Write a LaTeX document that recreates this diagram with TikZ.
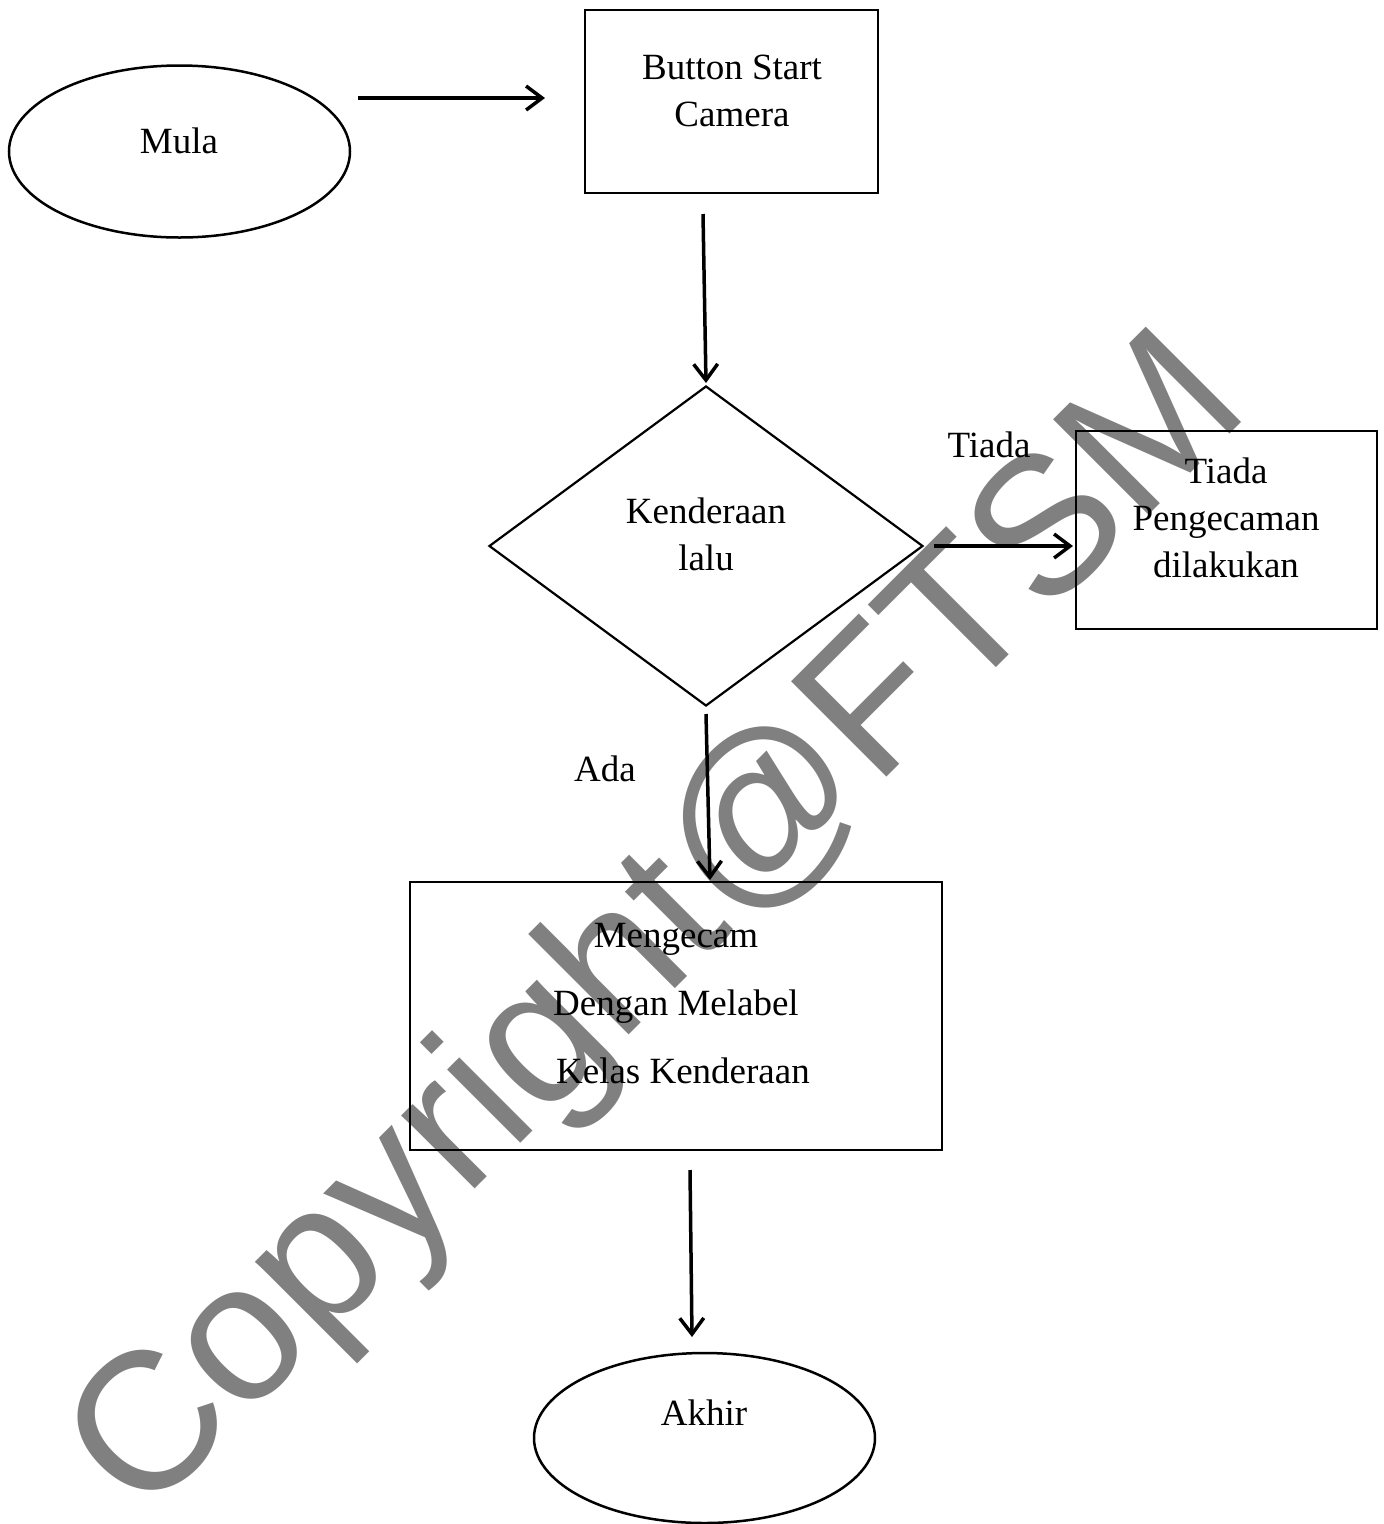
\documentclass[tikz,border=0pt]{standalone}
\usepackage{fontspec}
\setmainfont{Liberation Serif}
\newfontfamily\wmfont{Liberation Sans}
\usetikzlibrary{shapes.geometric,arrows.meta}
\begin{document}
\begin{tikzpicture}[x=1pt,y=-1pt,
  shapeline/.style={draw=black,line width=2.5pt},
  termbox/.style={shapeline,ellipse,inner sep=0pt,minimum width=341pt,minimum height=172pt},
  procbox/.style={shapeline,rectangle,inner sep=0pt},
  decbox/.style={draw=black,line width=2.2pt,diamond,inner sep=0pt,minimum width=434pt,minimum height=320pt},
  lbl/.style={font=\fontsize{37}{47}\selectfont,align=center,inner sep=0pt},
  flow/.style={draw=black,line width=3.5pt,-{Straight Barb[length=16pt,width=24pt]}}]
\useasboundingbox (0,0) rectangle (1384,1524);
% watermark
\node[rotate=45,anchor=base west,inner sep=0pt,text={rgb,255:red,128;green,128;blue,128}] (wm) at (142,1522)
  {\wmfont\fontsize{196}{200}\selectfont Copyright@FTSM};
% shapes
\node[termbox] (mula) at (179.5,151.5) {};
\node[procbox,minimum width=293pt,minimum height=183pt] (start) at (731.5,101.5) {};
\node[decbox] (dec) at (706,546) {};
\node[procbox,minimum width=301pt,minimum height=198pt] (none) at (1226.5,530) {};
\node[procbox,minimum width=532pt,minimum height=268pt] (detect) at (676,1016) {};
\node[termbox,minimum height=170pt] (akhir) at (704.5,1438) {};
% texts
\node[lbl] (mulaT) at (179,140.5) {Mula};
\node[lbl] (startT) at (732,90.5) {Button Start\\Camera};
\node[lbl] (decT) at (706,534) {Kenderaan\\lalu};
\node[lbl] (noneT) at (1226,518) {Tiada\\Pengecaman\\dilakukan};
\node[lbl,font=\fontsize{37}{68}\selectfont] (detectT) at (676,1004) {Mengecam\\Dengan Melabel\\\hspace*{14pt}Kelas Kenderaan};
\node[lbl] (akhirT) at (704,1412.5) {Akhir};
\node[lbl] (tiadaL) at (989,444.5) {Tiada};
\node[lbl] (adaL) at (605,768.5) {Ada};
% connector end points
\coordinate (c1s) at (358,98);  \coordinate (c1e) at (545,98);
\coordinate (c2s) at (703,214); \coordinate (c2e) at (706,383);
\coordinate (c3s) at (934,546); \coordinate (c3e) at (1073,546);
\coordinate (c4s) at (706,714); \coordinate (c4e) at (710,880);
\coordinate (c5s) at (690,1170); \coordinate (c5e) at (692,1337);
\draw[flow] (c1s) -- (c1e);
\draw[flow] (c2s) -- (c2e);
\draw[flow] (c3s) -- (c3e);
\draw[flow] (c4s) -- (c4e);
\draw[flow] (c5s) -- (c5e);
\end{tikzpicture}
\end{document}
